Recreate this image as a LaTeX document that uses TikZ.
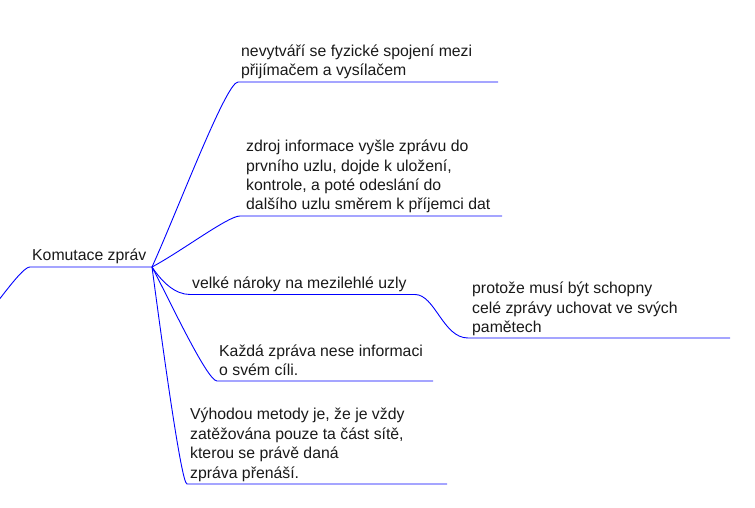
\documentclass[tikz,border=0pt]{standalone}
\usepackage{fontspec}
\setmainfont{Liberation Sans}
\begin{document}
\begin{tikzpicture}[x=1bp,y=-1bp,
  edge/.style={draw=blue, line width=0.9bp},
  lbl/.style={anchor=base west, inner sep=0pt, align=left, text=black!90,
    font=\fontsize{15.8bp}{19.4bp}\selectfont}]
\useasboundingbox (0,0) rectangle (755,508);
% hub and root
\coordinate (hub) at (152,267);
\coordinate (r0) at (30,267);
\coordinate (rp) at (-15,317);
\node[lbl] (root) at (32,260.5) {Komutace zpráv};
\draw[edge] (rp) .. controls +(15,-17) and +(-8,0) .. (r0) -- (hub);
% branch 1
\coordinate (b1s) at (238,82);
\coordinate (b1e) at (498,82);
\node[lbl] (t1) at (241,76) {nevytváří se fyzické spojení mezi\\přijímačem a vysílačem};
\draw[edge] (hub) .. controls +(25,-55) and +(-12,0) .. (b1s) -- (b1e);
% branch 2
\coordinate (b2s) at (240,216);
\coordinate (b2e) at (502,216);
\node[lbl] (t2) at (246,210) {zdroj informace vyšle zprávu do\\prvního uzlu, dojde k uložení,\\kontrole, a poté odeslání do\\dalšího uzlu směrem k příjemci dat};
\draw[edge] (hub) .. controls +(30,-16) and +(-12,0) .. (b2s) -- (b2e);
% branch 3
\coordinate (b3s) at (190,294.5);
\coordinate (b3e) at (415,294.5);
\node[lbl] (t3) at (192,288.5) {velké nároky na mezilehlé uzly};
\draw[edge] (hub) .. controls +(10,15) and +(-15,0) .. (b3s) -- (b3e);
% sub-branch of 3
\coordinate (s1s) at (468,338);
\coordinate (s1e) at (730,338);
\node[lbl] (ts) at (472,332.5) {protože musí být schopny\\celé zprávy uchovat ve svých\\pamětech};
\draw[edge] (b3e) .. controls +(20,0) and +(-25,0) .. (s1s) -- (s1e);
% branch 4
\coordinate (b4s) at (217,381);
\coordinate (b4e) at (433,381);
\node[lbl] (t4) at (219,375.5) {Každá zpráva nese informaci\\o svém cíli.};
\draw[edge] (hub) .. controls +(15,28) and +(-10,0) .. (b4s) -- (b4e);
% branch 5
\coordinate (b5s) at (187,484);
\coordinate (b5e) at (447,484);
\node[lbl] (t5) at (190,478) {Výhodou metody je, že je vždy\\zatěžována pouze ta část sítě,\\kterou se právě daná\\zpráva přenáší.};
\draw[edge] (hub) .. controls +(8,60) and +(-6,0) .. (b5s) -- (b5e);
\end{tikzpicture}
\end{document}
